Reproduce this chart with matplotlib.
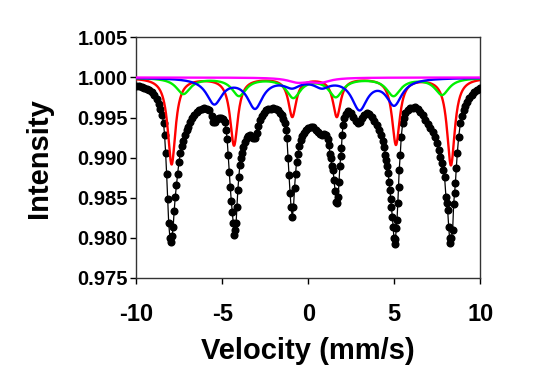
import numpy as np
import matplotlib
matplotlib.use("Agg")
import matplotlib.pyplot as plt

plt.rcParams['font.family'] = ['Liberation Sans', 'DejaVu Sans']
plt.rcParams['font.weight'] = 'bold'

# measured spectrum (velocity mm/s, relative transmission)
velocity = [
    -10.0, -9.85, -9.7, -9.55, -9.4, -9.25, -9.1, -8.95, -8.82, -8.7,
    -8.6, -8.5, -8.42, -8.36, -8.3, -8.24, -8.18, -8.12, -8.05, -7.98,
    -7.92, -7.86, -7.80, -7.74, -7.67, -7.60, -7.52, -7.44, -7.36, -7.27,
    -7.18, -7.08, -6.98, -6.86, -6.74, -6.62, -6.5, -6.35, -6.2, -6.05,
    -5.9, -5.75, -5.62, -5.52, -5.42, -5.3, -5.18, -5.06, -4.96, -4.86,
    -4.78, -4.72, -4.66, -4.6, -4.54, -4.48, -4.42, -4.36, -4.3, -4.25,
    -4.2, -4.15, -4.1, -4.04, -3.98, -3.92, -3.85, -3.77, -3.68, -3.58,
    -3.48, -3.39, -3.29, -3.19, -3.1, -3.0, -2.9, -2.8, -2.7, -2.6,
    -2.47, -2.32, -2.18, -2.03, -1.88, -1.74, -1.64, -1.55, -1.45, -1.35,
    -1.29, -1.24, -1.18, -1.12, -1.06, -1.0, -0.93, -0.86, -0.8, -0.74,
    -0.68, -0.6, -0.52, -0.44, -0.34, -0.24, -0.12, 0.0, 0.14, 0.29,
    0.43, 0.57, 0.68, 0.8, 0.92, 1.06, 1.14, 1.2, 1.26, 1.31,
    1.38, 1.44, 1.5, 1.56, 1.62, 1.68, 1.74, 1.79, 1.84, 1.89,
    1.93, 1.97, 2.02, 2.1, 2.2, 2.32, 2.46, 2.6, 2.75, 2.9,
    3.0, 3.1, 3.24, 3.39, 3.53, 3.68, 3.82, 3.97, 4.11, 4.26,
    4.35, 4.42, 4.49, 4.55, 4.6, 4.65, 4.7, 4.75, 4.8, 4.84,
    4.89, 4.94, 4.98, 5.02, 5.07, 5.12, 5.16, 5.21, 5.25, 5.29,
    5.35, 5.41, 5.49, 5.56, 5.64, 5.78, 5.93, 6.08, 6.23, 6.37,
    6.52, 6.66, 6.81, 6.95, 7.1, 7.24, 7.39, 7.49, 7.58, 7.68,
    7.78, 7.86, 7.93, 8.01, 8.06, 8.11, 8.17, 8.22, 8.27, 8.33,
    8.4, 8.46, 8.51, 8.56, 8.61, 8.67, 8.75, 8.85, 8.94, 9.04,
    9.14, 9.24, 9.38, 9.53, 9.67, 9.82, 10.0,
]
intensity = [
    0.9989, 0.99888, 0.99882, 0.99872, 0.9986, 0.99842, 0.9982, 0.9978, 0.9973, 0.9967,
    0.9961, 0.9953, 0.9943, 0.9928, 0.9906, 0.9879, 0.9848, 0.9818, 0.9800, 0.9795,
    0.9802, 0.9814, 0.9834, 0.9851, 0.9866, 0.9880, 0.9895, 0.9906, 0.9914, 0.9921,
    0.9928, 0.9934, 0.99385, 0.9944, 0.9949, 0.9953, 0.99565, 0.9959, 0.9961, 0.99615,
    0.9961, 0.9959, 0.9952, 0.9944, 0.9945, 0.9948, 0.9950, 0.9950, 0.9948, 0.9944,
    0.9935, 0.9923, 0.9903, 0.9882, 0.98635, 0.9846, 0.9832, 0.9818, 0.9803, 0.9810,
    0.9818, 0.9838, 0.9859, 0.9876, 0.9891, 0.9900, 0.9906, 0.99135, 0.9920, 0.9924,
    0.9927, 0.9928, 0.9926, 0.9924, 0.9925, 0.99302, 0.9939, 0.9947, 0.9952, 0.99555,
    0.9959, 0.99605, 0.9961, 0.99615, 0.9961, 0.9959, 0.9956, 0.99531, 0.9948, 0.99427,
    0.9934, 0.9924, 0.9900, 0.9878, 0.9856, 0.9838, 0.9826, 0.9838, 0.9862, 0.9880,
    0.98948, 0.9905, 0.9915, 0.9922, 0.9927, 0.9931, 0.99344, 0.9937, 0.9938, 0.99377,
    0.9935, 0.99323, 0.9929, 0.9928, 0.9929, 0.9928, 0.9923, 0.9916, 0.9905, 0.9899,
    0.9889, 0.98844, 0.9872, 0.9858, 0.9845, 0.9843, 0.9851, 0.9870, 0.9890, 0.9902,
    0.99115, 0.9928, 0.9941, 0.9950, 0.9955, 0.99585, 0.9956, 0.9951, 0.9946, 0.99427,
    0.9944, 0.9949, 0.9953, 0.99552, 0.9954, 0.9951, 0.9946, 0.99406, 0.9935, 0.9928,
    0.9921, 0.99135, 0.9903, 0.98969, 0.9889, 0.98802, 0.9870, 0.98594, 0.9848, 0.98385,
    0.9826, 0.98135, 0.9800, 0.9792, 0.9798, 0.9812, 0.98219, 0.9843, 0.98635, 0.98844,
    0.99031, 0.9926, 0.99427, 0.9950, 0.99552, 0.9959, 0.99615, 0.9962, 0.99627, 0.9961,
    0.99573, 0.9953, 0.9947, 0.9942, 0.99365, 0.9932, 0.9926, 0.9918, 0.99094, 0.9901,
    0.98927, 0.9885, 0.9876, 0.9851, 0.9843, 0.98344, 0.98135, 0.9800, 0.9793, 0.9800,
    0.98094, 0.98427, 0.9856, 0.9868, 0.98865, 0.99052, 0.9926, 0.99427, 0.9952, 0.9959,
    0.9965, 0.99698, 0.9974, 0.99781, 0.9982, 0.99844, 0.99865,
]

# fitted sub-spectra: line positions (mm/s), depths and widths (FWHM, mm/s)
red_pos = [-7.95, -4.32, -0.93, 1.66, 5.10, 8.30]
red_depth = [0.0108, 0.0084, 0.0048, 0.0048, 0.0083, 0.0109]
red_width = 0.55

green_pos = [-7.27, -4.03, -0.87, 1.60, 4.96, 7.78]
green_depth = [0.0020, 0.0022, 0.0024, 0.0023, 0.0022, 0.0021]
green_width = 1.0

blue_pos = [-5.47, -3.10, -0.94, 0.79, 2.98, 5.00]
blue_depth = [0.00315, 0.00365, 0.00094, 0.00094, 0.00378, 0.00323]
blue_width = 1.1

magenta_pos = [-0.6, 0.7]
magenta_depth = [0.00055, 0.00055]
magenta_width = 1.4


def lorentz_sum(v, pos, depth, width):
    out = np.ones_like(v)
    for p, d in zip(pos, depth):
        out -= d / (1.0 + ((v - p) / (width / 2.0)) ** 2)
    return out


fig = plt.figure(figsize=(5.5, 3.78), dpi=100)
ax = fig.add_axes([0.248, 0.265, 0.625, 0.636])

vv = np.linspace(-10, 10, 1200)
ax.plot(velocity, intensity, '-', color='black', lw=0.9, zorder=2)
ax.plot(velocity, intensity, 'o', color='black', ms=4.8, mec='black', zorder=3)
ax.plot(vv, lorentz_sum(vv, red_pos, red_depth, red_width), color='#ff0000', lw=1.7, zorder=4)
ax.plot(vv, lorentz_sum(vv, green_pos, green_depth, green_width), color='#00f000', lw=1.7, zorder=4)
ax.plot(vv, lorentz_sum(vv, blue_pos, blue_depth, blue_width), color='#0000ff', lw=1.7, zorder=4)
ax.plot(vv, lorentz_sum(vv, magenta_pos, magenta_depth, magenta_width), color='#ff00ff', lw=1.7, zorder=5)

ax.set_xlim(-10, 10)
ax.set_ylim(0.975, 1.005)
ax.set_xticks([-10, -5, 0, 5, 10])
ax.set_xticklabels(['-10', '-5', '0', '5', '10'], fontsize=17, fontweight='bold')
ax.set_yticks([0.975, 0.980, 0.985, 0.990, 0.995, 1.000, 1.005])
ax.set_yticklabels(['%.3f' % t for t in ax.get_yticks()], fontsize=14.5, fontweight='bold')
ax.tick_params(axis='x', direction='out', length=4, width=1, pad=14)
ax.tick_params(axis='y', direction='out', length=4, width=1, pad=2)
for s in ax.spines.values():
    s.set_color('#333333')
    s.set_linewidth(1)

ax.set_xlabel('Velocity (mm/s)', fontsize=21, fontweight='bold', labelpad=8)
ax.set_ylabel('Intensity', fontsize=21, fontweight='bold', labelpad=18)

plt.savefig('out.png', dpi=100)
